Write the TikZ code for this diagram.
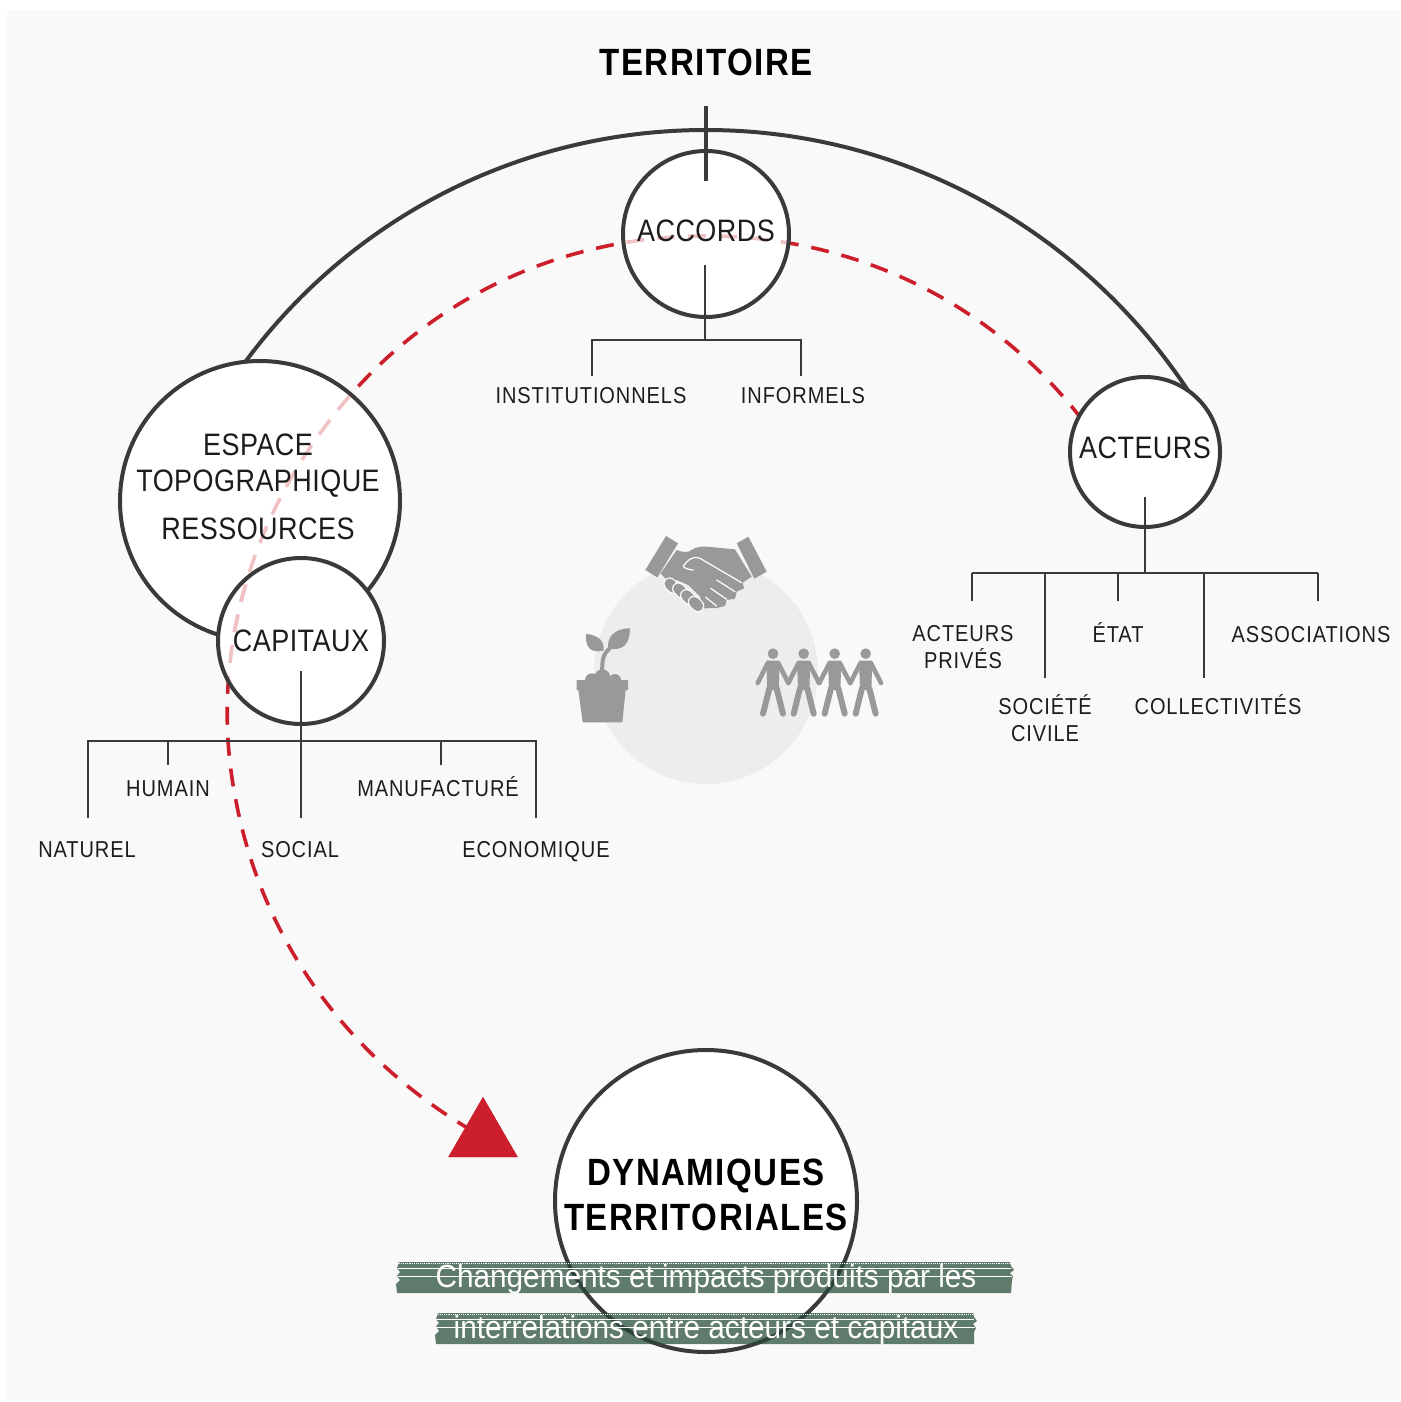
\documentclass[tikz,border=0pt]{standalone}
\usepackage{fontspec}
\usetikzlibrary{shapes.geometric}
\setmainfont{Liberation Sans}[FakeStretch=0.87,LetterSpace=4]
\newfontfamily\bigfont{Liberation Sans}[FakeStretch=0.87,LetterSpace=1.5]
\newfontfamily\bandfont{Liberation Sans}[FakeStretch=0.93]
\definecolor{ink}{HTML}{3A3A3A}
\definecolor{txt}{HTML}{1C1C1C}
\definecolor{redd}{HTML}{CC1F2B}
\definecolor{pinkd}{HTML}{F0C2C4}
\definecolor{bandg}{HTML}{5F7B6C}
\definecolor{bandd}{HTML}{2D433A}
\definecolor{icon}{HTML}{999999}
\newcommand{\redpath}{(dstart) .. controls (992,303) and (858,238.5) .. (714,236) .. controls (570,233.5) and (434,294) .. (342,405) .. controls (249.6,516) and (207.5,659.5) .. (236,801) .. controls (263,943) and (352,1064) .. (dend)}
\tikzset{
  x=1pt,y=-1pt,
  ring/.style={circle,draw=ink,line width=4pt,inner sep=0pt,outer sep=0pt},
  treeline/.style={draw=ink,line width=2.8pt},
  dashline/.style={line width=3.6pt,dash pattern=on 18pt off 13pt},
  lab/.style={text=txt,font=\fontsize{23}{27}\selectfont,align=center,inner sep=0pt},
  labone/.style={lab,text height=16.5pt,text depth=0pt},
  big/.style={text=txt,font=\fontsize{31}{36}\bigfont\selectfont,inner sep=0pt,text height=22pt,text depth=0pt},
  bold/.style={text=black,font=\fontsize{38}{45}\selectfont\bfseries,inner sep=0pt,text height=27pt,text depth=0pt},
  bandtext/.style={text=white,font=\fontsize{32}{36}\bandfont\selectfont,inner sep=0pt,anchor=base},
  hair/.style={draw=white,line width=0.9pt}
}
\begin{document}
\begin{tikzpicture}
\useasboundingbox (0,0) rectangle (1400,1402);
\fill[white] (0,0) rectangle (1400,1402);
\fill[fill=black!2.3] (7,10) rectangle (1400,1400);
% centre disc
\fill[black!7] (706,672) circle[radius=112];
% red line
\coordinate (dstart) at (1082.4,420);
\node[regular polygon,regular polygon sides=3,fill=redd,minimum size=80pt,inner sep=0pt,outer sep=0pt] (tri) at (483,1137) {};
\coordinate (dend) at (tri.center);
\draw[redd,dashline] \redpath;
\node[regular polygon,regular polygon sides=3,fill=redd,minimum size=80pt,inner sep=0pt,outer sep=0pt] (tri2) at (483,1137) {};
% circles
\node[ring,fill=white,minimum size=280pt] (esp) at (260,501) {};
\fill[white] (301,641) circle[radius=83];
\fill[white] (706,234) circle[radius=83];
\begin{scope}
\clip (260,501) circle[radius=138];
\draw[pinkd,dashline] \redpath;
\end{scope}
\begin{scope}
\clip (301,641) circle[radius=83];
\draw[pinkd,dashline] \redpath;
\end{scope}
\begin{scope}
\clip (706,234) circle[radius=83];
\draw[pinkd,dashline] \redpath;
\end{scope}
\node[ring,minimum size=166pt] (cap) at (301,641) {};
\node[ring,minimum size=166pt] (acc) at (706,234) {};
\node[ring,fill=white,minimum size=150pt] (act) at (1145,452) {};
\node[ring,fill=white,minimum size=302pt] (dyn) at (706,1201) {};
% big arc
\coordinate (arctop) at (706,130);
\draw[ink,line width=4pt] (esp.96) .. controls (354.6,214.1) and (525.2,130) .. (arctop) .. controls (899.5,130) and (1079.8,227.2) .. (act.55);
% titles
\node[bold] (terr) at (706,62.5) {TERRITOIRE};
\coordinate (ttop) at (706,106);
\coordinate (tbot) at (706,181);
\draw[ink,line width=3.2pt] (ttop) -- (tbot);
% accords tree
\coordinate (a0) at (705,265);\coordinate (a1) at (705,340);
\coordinate (a2) at (592,340);\coordinate (a3) at (801,340);
\coordinate (a4) at (592,376);\coordinate (a5) at (801,376);
\draw[treeline] (a0) -- (a1);
\draw[treeline] (a4) -- (a2) -- (a3) -- (a5);
\node[big] (accl) at (706,230) {ACCORDS};
\node[labone] (inst) at (591,395.5) {INSTITUTIONNELS};
\node[labone] (info) at (803,395.5) {INFORMELS};
% acteurs tree
\coordinate (b0) at (1145,497);\coordinate (b1) at (1145,573);
\coordinate (b2) at (972,573);\coordinate (b3) at (1318,573);
\draw[treeline] (b0) -- (b1);
\draw[treeline] (b2) -- +(0,28);
\draw[treeline] (b2) -- (b3);
\draw[treeline] (b3) -- +(0,28);
\draw[treeline] (1045,573) -- (1045,678);
\draw[treeline] (1118,573) -- (1118,601);
\draw[treeline] (1204,573) -- (1204,678);
\node[big] (actl) at (1145,447) {ACTEURS};
\node[lab] (priv) at (963,647) {ACTEURS\\PRIVÉS};
\node[labone] (etat) at (1118,634) {ÉTAT};
\node[labone] (asso) at (1311,634) {ASSOCIATIONS};
\node[lab] (soci) at (1045,718.5) {SOCIÉTÉ\\CIVILE};
\node[labone] (coll) at (1218,706) {COLLECTIVITÉS};
% capitaux tree
\coordinate (c0) at (301,671);\coordinate (c1) at (301,818);
\draw[treeline] (c0) -- (c1);
\draw[treeline] (88,818) -- (88,741) -- (536,741) -- (536,818);
\draw[treeline] (168,741) -- (168,765);
\draw[treeline] (441,741) -- (441,765);
\node[big] (espa) at (258,444) {ESPACE};
\node[big] (topo) at (258,480) {TOPOGRAPHIQUE};
\node[big] (ress) at (258,528) {RESSOURCES};
\node[big] (capl) at (301,640) {CAPITAUX};
\node[labone] (natu) at (87,849) {NATUREL};
\node[labone] (huma) at (168,788) {HUMAIN};
\node[labone] (soca) at (300,849) {SOCIAL};
\node[labone] (manu) at (438,788) {MANUFACTURÉ};
\node[labone] (econ) at (536,849) {ECONOMIQUE};
% dynamiques
\node[bold] (dyn1) at (706,1172) {DYNAMIQUES};
\node[bold] (dyn2) at (706,1217) {TERRITORIALES};
% bands
\fill[bandg] (399,1262) -- (1010,1262) -- (1011,1266) -- (1014,1270) -- (1010,1273) -- (1013,1276) -- (1012,1280) -- (1011,1293) -- (397,1293) -- (396,1284) -- (400,1280) -- (397,1276) -- (400,1272) -- (397,1268) -- cycle;
\fill[bandg] (438,1313) -- (973,1313) -- (974,1317) -- (977,1321) -- (973,1324) -- (976,1328) -- (974,1332) -- (974,1344) -- (436,1344) -- (435,1335) -- (439,1331) -- (436,1326) -- (439,1323) -- (436,1319) -- cycle;
\begin{scope}
\clip (390,1262) rectangle (1020,1293) (430,1313) rectangle (985,1344);
\draw[bandd,line width=4pt] (706,1201) circle[radius=151];
\end{scope}
\draw[hair,densely dotted] (399,1263.5) -- (1010,1263.5);
\draw[hair] (398,1268) -- (1011,1268);
\draw[hair] (398,1276.5) -- (1012,1276.5);
\draw[hair,densely dotted] (438,1314.5) -- (973,1314.5);
\draw[hair] (436,1319) -- (974,1319);
\draw[hair] (436,1327.5) -- (975,1327.5);
\node[bandtext] (band1) at (706,1287) {Changements et impacts produits par les};
\node[bandtext] (band2) at (706,1338) {interrelations entre acteurs et capitaux};
% icons (crop coordinates)
\begin{scope}[shift={(560,520)},x=0.33333pt,y=-0.33333pt]
 % handshake
 \fill[icon] (318,48) -- (354,70) -- (292,172) -- (256,150) -- cycle;
 \fill[icon] (530,70) -- (565,50) -- (620,155) -- (583,176) -- cycle;
 \fill[icon] (350,90) .. controls (370,98) and (385,98) .. (395,90) .. controls (410,78) and (430,80) .. (440,80) -- (525,88) -- (575,170) -- (548,188) -- (552,205) -- (530,215) -- (525,236) -- (500,240) -- (495,258) -- (470,264) -- (430,265) -- (420,230) -- (385,195) -- (350,180) -- (320,180) -- (302,160) -- cycle;
 \foreach \fx/\fy/\gx/\gy in {329/191/341/203, 355/206/367/218, 379/226/391/238, 402/246/414/258}{
   \draw[white,line width=12.6pt,line cap=round] (\fx,\fy) -- (\gx,\gy);
   \draw[icon,line width=10.4pt,line cap=round] (\fx,\fy) -- (\gx,\gy);
 }
 \draw[white,line width=1.2pt,line cap=round,line join=round] (400,150) .. controls (385,148) and (370,145) .. (370,138) .. controls (380,125) and (395,105) .. (420,115) -- (545,188);
 \draw[white,line width=1.2pt,line cap=round] (470,180) -- (525,215);
 \draw[white,line width=1.2pt,line cap=round] (452,205) -- (500,238);
 \draw[white,line width=1.2pt,line cap=round] (437,232) -- (470,258);
 % plant
 \fill[icon] (50,480) -- (204,480) -- (204,510) -- (197,510) -- (187,607) -- (68,607) -- (55,510) -- (50,510) -- cycle;
 \fill[icon] (95,480) circle[radius=20];
 \fill[icon] (127,472) circle[radius=24];
 \fill[icon] (165,480) circle[radius=18];
 \draw[icon,line width=4pt] (127,460) .. controls (125,420) and (130,400) .. (150,385);
 \fill[icon] (78,342) .. controls (125,345) and (135,375) .. (130,392) .. controls (95,400) and (75,385) .. (78,342) -- cycle;
 \fill[icon] (210,325) .. controls (160,325) and (140,355) .. (145,385) .. controls (190,395) and (210,370) .. (210,325) -- cycle;
 % people
 \foreach \cx in {639,731,824,917}{
   \fill[icon] (\cx,401) circle[radius=16];
   \fill[icon] (\cx-20,422) -- (\cx+20,422) -- (\cx+17,510) -- (\cx-17,510) -- cycle;
   \draw[icon,line width=4.6pt,line cap=round,line join=round] (\cx-16,430) -- (\cx-46,489);
   \draw[icon,line width=4.6pt,line cap=round,line join=round] (\cx+16,430) -- (\cx+46,489);
   \draw[icon,line width=6pt,line cap=round] (\cx-11,505) -- (\cx-30,581);
   \draw[icon,line width=6pt,line cap=round] (\cx+11,505) -- (\cx+30,581);
 }
\end{scope}
\end{tikzpicture}
\end{document}
